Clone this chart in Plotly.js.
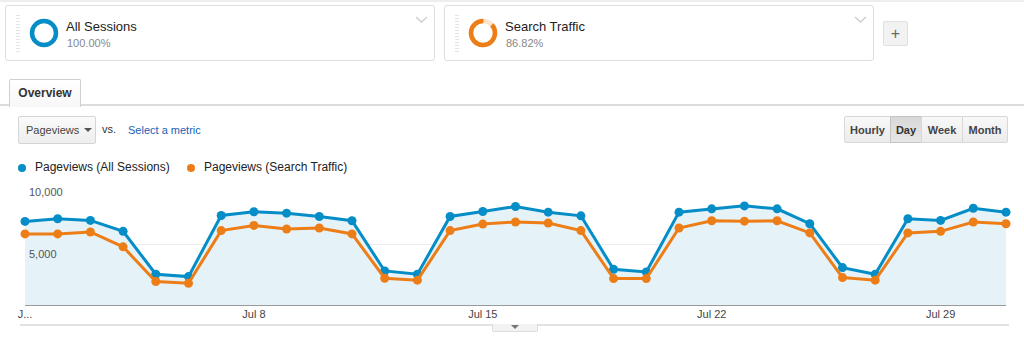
<!DOCTYPE html>
<html><head><meta charset="utf-8">
<script src="https://cdn.plot.ly/plotly-3.0.1.min.js"></script>
<style>
body{margin:0;width:1024px;height:341px;overflow:hidden;background:#fff;font-family:Arial,"Liberation Sans",sans-serif;position:relative}
.abs{position:absolute}
.seg{position:absolute;top:5px;height:54px;width:428px;border:1px solid #dedede;border-radius:3px;background:#fff}
.handle{position:absolute;left:10px;top:9px;width:4px;height:39px;background:repeating-linear-gradient(#e4e4e4 0 1px,#fff 1px 3px)}
.segname{position:absolute;left:60px;top:13px;font-size:13px;color:#222}
.segpct{position:absolute;left:61px;top:31px;font-size:11px;color:#888}
.btn{position:absolute;top:116px;height:27px;line-height:27px;font-size:11px;font-weight:bold;color:#444;text-align:center;background:linear-gradient(#f8f8f8,#ececec);border:1px solid #d8d8d8;box-sizing:border-box}
.leg{position:absolute;top:160px;font-size:12px;color:#222}
.dot{position:absolute;width:8px;height:8px;border-radius:50%;top:164px}
</style></head>
<body>
<div class="abs" style="left:0;top:0;width:1024px;height:2px;background:#eee"></div>

<div class="seg" style="left:5px">
  <div class="handle"></div>
  <svg class="abs" style="left:22px;top:11px" width="32" height="32"><circle cx="16" cy="16" r="12" fill="none" stroke="#058dc7" stroke-width="4.5"/></svg>
  <div class="segname" id="seg1name"></div>
  <div class="segpct" id="seg1pct"></div>
  <svg class="abs" style="left:408px;top:9px" width="16" height="10"><polyline points="2,2 7.5,7 13,2" fill="none" stroke="#cfcfcf" stroke-width="1.5"/></svg>
</div>
<div class="seg" style="left:444px">
  <div class="handle"></div>
  <svg class="abs" style="left:22px;top:11px" width="32" height="32" id="donut2"></svg>
  <div class="segname" id="seg2name"></div>
  <div class="segpct" id="seg2pct"></div>
  <svg class="abs" style="left:408px;top:9px" width="16" height="10"><polyline points="2,2 7.5,7 13,2" fill="none" stroke="#cfcfcf" stroke-width="1.5"/></svg>
</div>
<div class="abs" style="left:883px;top:21px;width:23px;height:23px;border:1px solid #e0e0e0;background:#f2f2f2;border-radius:2px;text-align:center;line-height:23px;font-size:16px;color:#666">+</div>

<div class="abs" style="left:0;top:104px;width:1024px;height:2px;background:#dcdcdc"></div>
<div class="abs" style="left:9px;top:79px;width:70px;height:27px;border:1px solid #d0d0d0;border-bottom:none;background:linear-gradient(#fff,#f7f7f7);border-radius:2px 2px 0 0;font-size:12px;font-weight:bold;color:#333;text-align:center;line-height:27px">Overview</div>

<div class="abs" style="left:18px;top:116px;width:78px;height:28px;border:1px solid #d5d5d5;border-radius:2px;background:linear-gradient(#fafafa,#eee);box-sizing:border-box;font-size:11px;color:#444;line-height:26px;padding-left:7px">Pageviews<span style="position:absolute;left:65px;top:11px;width:0;height:0;border-left:4px solid transparent;border-right:4px solid transparent;border-top:4px solid #555"></span></div>
<div class="abs" style="left:102px;top:123px;font-size:11px;color:#333">vs.</div>
<div class="abs" style="left:128px;top:124px;font-size:11px;color:#1a62b5">Select a metric</div>

<div class="btn" style="left:844px;width:47px;border-radius:2px 0 0 2px">Hourly</div>
<div class="btn" style="left:890px;width:32px;background:linear-gradient(#d8d8d8,#e6e6e6);border-color:#c4c4c4;color:#333">Day</div>
<div class="btn" style="left:921px;width:42px">Week</div>
<div class="btn" style="left:962px;width:46px;border-radius:0 2px 2px 0">Month</div>

<div class="dot" style="left:18px;background:#058dc7"></div>
<div class="leg" style="left:35px" id="leg1"></div>
<div class="dot" style="left:187px;background:#ed7e17"></div>
<div class="leg" style="left:204px" id="leg2"></div>

<div id="chart" class="abs" style="left:0;top:170px;width:1024px;height:160px"></div>

<div class="abs" style="left:20px;top:324px;width:989px;height:2px;background:#e2e2e2"></div>
<div class="abs" style="left:492px;top:324px;width:44px;height:7px;border:1px solid #ddd;border-top:none;background:#f2f2f2;border-radius:0 0 2px 2px"><span style="position:absolute;left:18px;top:1px;width:0;height:0;border-left:4px solid transparent;border-right:4px solid transparent;border-top:4px solid #777"></span></div>

<script>
// ---- data ----
const segmentNames = ["All Sessions", "Search Traffic"];
const segmentShares = [100.00, 86.82];
const seriesNames = ["Pageviews (All Sessions)", "Pageviews (Search Traffic)"];
const dates = ["2018-07-01","2018-07-02","2018-07-03","2018-07-04","2018-07-05","2018-07-06","2018-07-07","2018-07-08","2018-07-09","2018-07-10",
  "2018-07-11","2018-07-12","2018-07-13","2018-07-14","2018-07-15","2018-07-16","2018-07-17","2018-07-18","2018-07-19","2018-07-20",
  "2018-07-21","2018-07-22","2018-07-23","2018-07-24","2018-07-25","2018-07-26","2018-07-27","2018-07-28","2018-07-29","2018-07-30","2018-07-31"];
const allSessions = [6880,7090,6960,6070,2580,2390,7360,7660,7550,7280,
  6930,2850,2580,7280,7680,8090,7630,7330,2980,2770,
  7630,7900,8140,7900,6690,3120,2580,7090,6960,7950,7630];
const searchTraffic = [5860,5860,6020,4810,1990,1850,6130,6550,6260,6340,
  5860,2260,2100,6130,6660,6830,6750,6130,2230,2230,
  6340,6930,6900,6930,5940,2310,2100,5940,6070,6830,6690];
const xTickVals = ["2018-07-01","2018-07-08","2018-07-15","2018-07-22","2018-07-29"];
const xTickText = ["J...","Jul 8","Jul 15","Jul 22","Jul 29"];
const yTickVals = [5000, 10000];
const yTickText = ["5,000", "10,000"];

// ---- header text ----
document.getElementById("seg1name").textContent = segmentNames[0];
document.getElementById("seg2name").textContent = segmentNames[1];
document.getElementById("seg1pct").textContent = segmentShares[0].toFixed(2) + "%";
document.getElementById("seg2pct").textContent = segmentShares[1].toFixed(2) + "%";
document.getElementById("leg1").textContent = seriesNames[0];
document.getElementById("leg2").textContent = seriesNames[1];
(function(){
  const r = 12, c = 2*Math.PI*r, f = segmentShares[1]/100;
  document.getElementById("donut2").innerHTML =
    '<circle cx="16" cy="16" r="12" fill="none" stroke="#fbe3cc" stroke-width="4.5"/>' +
    '<circle cx="16" cy="16" r="12" fill="none" stroke="#ed7e17" stroke-width="4.5" stroke-dasharray="'+(c*f)+' '+c+'" transform="rotate('+(-90+360*(1-f))+' 16 16)"/>';
})();

// ---- chart ----
const traces = [
  {x: dates, y: allSessions, name: seriesNames[0], type: "scatter", mode: "lines+markers",
   fill: "tozeroy", fillcolor: "#e5f2f8",
   line: {color: "#058dc7", width: 3}, marker: {color: "#058dc7", size: 9}, cliponaxis: false},
  {x: dates, y: searchTraffic, name: seriesNames[1], type: "scatter", mode: "lines+markers",
   line: {color: "#ed7e17", width: 3}, marker: {color: "#ed7e17", size: 9}, cliponaxis: false}
];
const annotations = yTickVals.map((v, i) => ({
  x: 0, xref: "paper", xanchor: "left", xshift: 2, y: v, yref: "y", yanchor: "top", yshift: -1,
  text: yTickText[i], showarrow: false, font: {family: "Arial, Liberation Sans", size: 11, color: "#555"}
}));
const layout = {
  width: 1024, height: 160,
  margin: {l: 25, r: 18, t: 13, b: 24},
  paper_bgcolor: "rgba(0,0,0,0)", plot_bgcolor: "rgba(0,0,0,0)",
  showlegend: false,
  xaxis: {type: "date", range: [dates[0], dates[dates.length-1]], tickvals: xTickVals, ticktext: xTickText,
    showgrid: false, zeroline: false, showline: false, ticks: "",
    tickfont: {family: "Arial, Liberation Sans", size: 11, color: "#444"}, fixedrange: true},
  yaxis: {range: [0, 10000], tickvals: yTickVals, showticklabels: false, showgrid: true, gridcolor: "#ececec", gridwidth: 1,
    zeroline: false, showline: false, fixedrange: true},
  shapes: [{type: "line", xref: "paper", yref: "y", x0: 0, x1: 1, y0: 0, y1: 0, line: {color: "#9a9a9a", width: 2}}],
  annotations: annotations
};
Plotly.newPlot("chart", traces, layout, {displayModeBar: false, staticPlot: true});
</script>
</body></html>
